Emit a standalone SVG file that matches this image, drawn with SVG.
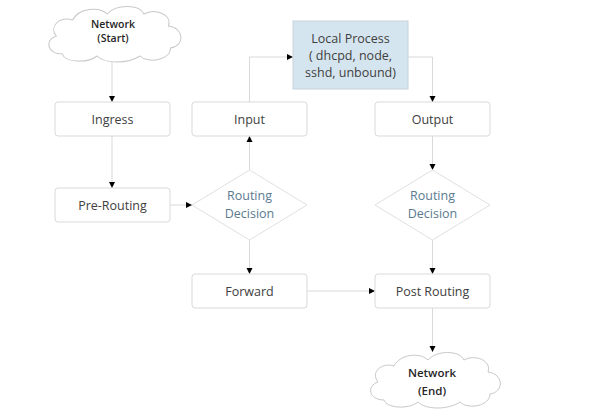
<svg xmlns="http://www.w3.org/2000/svg" width="602" height="414" viewBox="0 0 602 414">
<style>
.box{fill:#ffffff;stroke:#d9d9d9;stroke-width:1}
.lp{fill:#d5e5ef;stroke:#c5d3dc;stroke-width:1}
.dia{fill:#ffffff;stroke:#e0e0e0;stroke-width:1}
.cloud{fill:#ffffff;stroke:#c8c8c8;stroke-width:1}
.t{font-family:"Open Sans","Liberation Sans",sans-serif;font-size:12.5px;fill:#404040;text-anchor:middle}
.rd{font-family:"Open Sans","Liberation Sans",sans-serif;font-size:12.5px;fill:#5a7a90;text-anchor:middle}
.ct{font-family:"Open Sans","Liberation Sans",sans-serif;font-size:10.5px;font-weight:600;fill:#262626;text-anchor:middle}
.ce{font-family:"Open Sans","Liberation Sans",sans-serif;font-size:11.5px;font-weight:600;fill:#262626;text-anchor:middle}
.c{fill:none;stroke:#d9d9d9;stroke-width:1}
</style>
<defs>
<marker id="ah" markerWidth="7" markerHeight="7" refX="6" refY="3.5" orient="auto" markerUnits="userSpaceOnUse">
<path d="M0,0.5 L6,3.5 L0,6.5 Z" fill="#000000"/>
</marker>
<path id="cloudp" d="M20,50 C5,50 2,36 14,32 C6,22 18,12 30,16 C36,4 56,2 64,10 C72,0 96,0 100,10 C110,4 128,10 124,22 C140,24 140,42 126,44 C126,56 104,60 96,52 C84,60 62,60 54,52 C44,60 22,58 20,50 Z"/>
</defs>
<rect width="602" height="414" fill="#ffffff"/>
<g id="connectors">
<line class="c" x1="112" y1="62" x2="112" y2="102" marker-end="url(#ah)"/>
<line class="c" x1="112" y1="136" x2="112" y2="188" marker-end="url(#ah)"/>
<line class="c" x1="170" y1="205" x2="192" y2="205" marker-end="url(#ah)"/>
<line class="c" x1="249.5" y1="170" x2="249.5" y2="136" marker-end="url(#ah)"/>
<polyline class="c" points="249.5,102 249.5,57 293,57" marker-end="url(#ah)"/>
<polyline class="c" points="408,57 432.5,57 432.5,102" marker-end="url(#ah)"/>
<line class="c" x1="432.5" y1="136" x2="432.5" y2="170" marker-end="url(#ah)"/>
<line class="c" x1="249.5" y1="240" x2="249.5" y2="274" marker-end="url(#ah)"/>
<line class="c" x1="432.5" y1="240" x2="432.5" y2="274" marker-end="url(#ah)"/>
<line class="c" x1="307" y1="291" x2="375" y2="291" marker-end="url(#ah)"/>
<line class="c" x1="432.5" y1="308" x2="432.5" y2="352" marker-end="url(#ah)"/>
</g>
<g id="network-start">
<use href="#cloudp" class="cloud" transform="translate(42,4) scale(1.02,1.0)"/>
<text class="ct" x="113" y="28">Network</text>
<text class="ct" x="113" y="42">(Start)</text>
</g>
<g id="ingress">
<rect class="box" x="55" y="102" width="115" height="34" rx="3"/>
<text class="t" x="112.5" y="123.5">Ingress</text>
</g>
<g id="pre-routing">
<rect class="box" x="55" y="188" width="115" height="34" rx="3"/>
<text class="t" x="112.5" y="209.5">Pre-Routing</text>
</g>
<g id="routing-decision-1">
<polygon class="dia" points="249.5,170 307,205 249.5,240 192,205"/>
<text class="rd" x="249.5" y="200">Routing</text>
<text class="rd" x="249.5" y="218">Decision</text>
</g>
<g id="input">
<rect class="box" x="192" y="102" width="115" height="34" rx="3"/>
<text class="t" x="249.5" y="123.5">Input</text>
</g>
<g id="local-process">
<rect class="lp" x="293" y="21" width="115" height="68"/>
<text class="t" x="350.5" y="43">Local Process</text>
<text class="t" x="350.5" y="60">( dhcpd, node,</text>
<text class="t" x="350.5" y="77">sshd, unbound)</text>
</g>
<g id="output">
<rect class="box" x="375" y="102" width="115" height="34" rx="3"/>
<text class="t" x="432.5" y="123.5">Output</text>
</g>
<g id="routing-decision-2">
<polygon class="dia" points="432.5,170 490,205 432.5,240 375,205"/>
<text class="rd" x="432.5" y="200">Routing</text>
<text class="rd" x="432.5" y="218">Decision</text>
</g>
<g id="forward">
<rect class="box" x="192" y="274" width="115" height="34" rx="3"/>
<text class="t" x="249.5" y="295.5">Forward</text>
</g>
<g id="post-routing">
<rect class="box" x="375" y="274" width="115" height="34" rx="3"/>
<text class="t" x="432.5" y="295.5">Post Routing</text>
</g>
<g id="network-end">
<use href="#cloudp" class="cloud" transform="translate(364,350) scale(1.0,1.0)"/>
<text class="ce" x="432" y="377">Network</text>
<text class="ce" x="432" y="395">(End)</text>
</g>
</svg>
